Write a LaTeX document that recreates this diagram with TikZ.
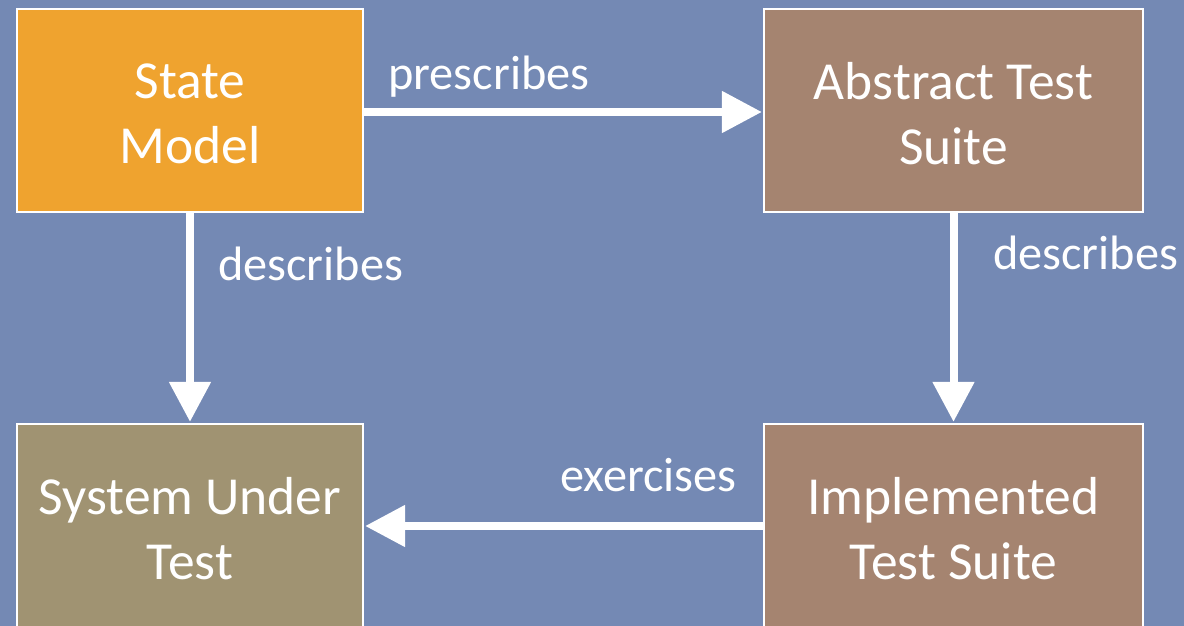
\documentclass[tikz,border=0pt]{standalone}
\usepackage{fontspec}
\setmainfont{Carlito}
\usetikzlibrary{arrows.meta}
\definecolor{bgblue}{RGB}{116,137,180}
\definecolor{modelorange}{RGB}{239,163,47}
\definecolor{suitebrown}{RGB}{165,132,112}
\definecolor{sutolive}{RGB}{160,147,114}
\tikzset{
  block/.style={draw=white, line width=2.2pt, minimum width=346pt, minimum height=203pt,
    inner sep=0pt},
  widebox/.style={block, minimum width=379pt},
  blocktext/.style={inner sep=0pt, align=center, text=white,
    font=\fontsize{53.5}{65}\selectfont},
  flow/.style={draw=white, line width=8pt, -{Triangle[width=40pt,length=40pt]}, shorten >=1pt},
  lbl/.style={text=white, inner sep=0pt, anchor=base west, font=\fontsize{48.3}{58}\selectfont}
}
\begin{document}
\begin{tikzpicture}[x=1pt, y=-1pt]
  \fill[bgblue] (0,0) rectangle (1184,626);
  \clip (0,0) rectangle (1184,626);

  % the four blocks
  \node[block, fill=modelorange] (model) at (190,110.5) {};
  \node[widebox, fill=suitebrown] (abstract) at (953.5,110.5) {};
  \node[block, fill=sutolive] (sut) at (190,525.5) {};
  \node[widebox, fill=suitebrown] (impl) at (953.5,525.5) {};

  % block captions, set a little below the block centres
  \node[blocktext] (tmodel) at ([yshift=-3pt]model.center) {State\\Model};
  \node[blocktext] (tabstract) at ([yshift=-3pt]abstract.center) {Abstract Test\\Suite};
  \node[blocktext] (tsut) at ([yshift=-3pt]sut.center) {System Under\\Test};
  \node[blocktext] (timpl) at ([yshift=-3pt]impl.center) {Implemented\\Test Suite};

  % connectors
  \draw[flow] (model.east |- 0,112) -- (abstract.west |- 0,112);
  \draw[flow] (model.south) -- (sut.north);
  \draw[flow] (abstract.south) -- (impl.north);
  \draw[flow] (impl.west |- 0,526) -- (sut.east |- 0,526);

  % connector labels
  \node[lbl] (lprescribes) at (388,89.5) {prescribes};
  \node[lbl] (ldescribesA) at (218,280) {describes};
  \node[lbl] (ldescribesB) at (993,269.5) {describes};
  \node[lbl] (lexercises) at (560,491) {exercises};
\end{tikzpicture}
\end{document}
